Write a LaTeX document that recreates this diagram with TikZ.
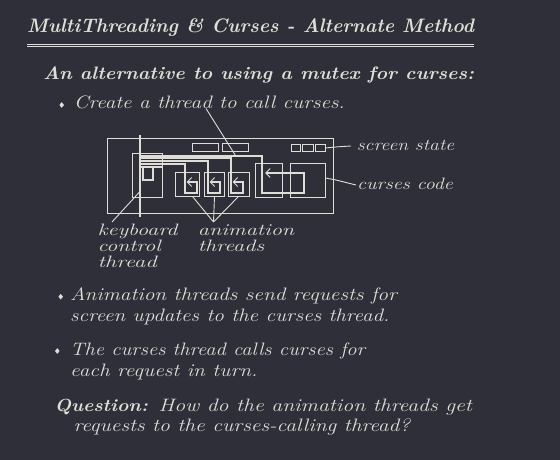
\documentclass[tikz,border=0pt]{standalone}
\usepackage{graphicx}
\usetikzlibrary{arrows.meta}
\definecolor{bg}{RGB}{46,47,56}
\definecolor{fg}{RGB}{222,222,214}
\newcommand\fitto[2]{\resizebox{#1pt}{\height}{#2}}
\begin{document}
\begin{tikzpicture}[x=1pt,y=-1pt,
  txt/.style={anchor=base west, inner sep=0pt, text=fg, font=\fontsize{18}{21}\selectfont\itshape},
  lbl/.style={txt, font=\fontsize{16.5}{19}\selectfont\itshape},
  boldtxt/.style={txt, font=\fontsize{18}{21}\selectfont\bfseries\itshape},
  box/.style={draw=fg, line width=1pt, inner sep=0pt, outer sep=0pt},
  thin/.style={draw=fg, line width=0.9pt},
  thick/.style={draw=fg, line width=2pt},
  tip/.style={-{Straight Barb[length=4.5pt,width=9pt,line width=1pt]}},
  bullet/.style={fill=fg}]
\fill[bg] (0,0) rectangle (560,460);
\useasboundingbox (0,0) rectangle (560,460);

% ---- title ----
\node[txt, font=\fontsize{19.5}{22}\selectfont\bfseries\itshape] (title) at (27,33) {\fitto{447}{MultiThreading \& Curses - Alternate Method}};
\coordinate (ulA) at (27,44.2);
\coordinate (ulB) at (474,44.2);
\coordinate (ulC) at (27,46.8);
\coordinate (ulD) at (474,46.8);
\draw[thin] (ulA) -- (ulB);
\draw[thin] (ulC) -- (ulD);

% ---- subtitle ----
\node[boldtxt] (sub) at (43,79.7) {\fitto{431}{An alternative to using a mutex for curses:}};

% ---- bullet 1 ----
\fill[bullet] (59.4,105) -- (61.7,102.2) -- (64,105) -- (61.7,107.8) -- cycle;
\node[txt] (b1) at (73.6,108.8) {\fitto{271}{Create a thread to call curses.}};

% ---- diagram boxes ----
\node[box, minimum width=226pt, minimum height=75pt] (outer) at (220,176) {};
\node[box, minimum width=26pt, minimum height=8pt] (top1) at (205.5,147.5) {};
\node[box, minimum width=26pt, minimum height=8pt] (top2) at (235.5,147.5) {};
\node[box, minimum width=9pt, minimum height=7pt] (ss1) at (295.5,148) {};
\node[box, minimum width=10.5pt, minimum height=7pt] (ss2) at (307.75,148) {};
\node[box, minimum width=10pt, minimum height=7pt] (ss3) at (320,148) {};
\node[box, minimum width=29.5pt, minimum height=44pt] (kbbox) at (147.25,175.5) {};
\node[box, minimum width=24pt, minimum height=24pt] (an1) at (187.5,184.5) {};
\node[box, minimum width=20pt, minimum height=24pt] (an2) at (214.5,184.5) {};
\node[box, minimum width=21pt, minimum height=24pt] (an3) at (239,184.5) {};
\node[box, minimum width=27pt, minimum height=34pt] (cA) at (269,180.5) {};
\node[box, minimum width=35pt, minimum height=34pt] (cB) at (308,180.5) {};

% ---- keyboard thread (thick) ----
\coordinate (vtop) at (140,135);
\coordinate (vbot) at (140,217);
\draw[thick] (vtop) -- (vbot);
\draw[thick] (140,167) -- (kbbox.east |- 0,167);
\draw[thick] (142.5,167) rectangle (152.5,180);

% requests to the curses thread
\draw[thick, tip] (140,155.5) -- (262,155.5) -- (262,193) -- (304,193) -- (304,173) -- (265,173);
% requests to the animation threads
\draw[thick, tip] (140,158.2) -- (231,158.2) -- (231,192.5) -- (243.3,192.5) -- (243.3,182) -- (232.5,182);
\draw[thick, tip] (140,160.9) -- (208,160.9) -- (208,192.5) -- (219.7,192.5) -- (219.7,182) -- (209.5,182);
\draw[thick, tip] (140,163.6) -- (185,163.6) -- (185,192.5) -- (196.6,192.5) -- (196.6,182) -- (186.5,182);

% ---- leaders ----
\coordinate (thrA) at (206,108.5);
\coordinate (thrB) at (235.5,155.5);
\draw[thin] (thrA) -- (thrB);

\coordinate (ssA) at (351,146);
\draw[thin] (ss3.east) -- (338,146.8) -- (ssA);
\node[lbl] (sslbl) at (356.7,150.5) {\fitto{97.3}{screen state}};

\coordinate (ccA) at (356,185);
\draw[thin] (cB.east |- 0,178) -- (336,180) -- (ccA);
\node[lbl] (cclbl) at (357,189.8) {\fitto{95.7}{curses code}};

\coordinate (kbA) at (112,222);
\coordinate (kbB) at (139.5,192);
\draw[thin] (kbA) -- (kbB);
\node[lbl] (kb1) at (97.3,235.8) {\fitto{80}{keyboard}};
\node[lbl] (kb2) at (97.3,251.7) {\fitto{63.4}{control}};
\node[lbl] (kb3) at (97.3,267.8) {\fitto{59.4}{thread}};

\coordinate (anA) at (213.5,222);
\draw[thin] (anA) -- (192.5,196.5);
\draw[thin] (anA) -- (214.5,196.5);
\draw[thin] (anA) -- (238.5,196.5);
\node[lbl] (an1lbl) at (197.7,235.8) {\fitto{96.3}{animation}};
\node[lbl] (an2lbl) at (197.7,251.7) {\fitto{66.3}{threads}};

% ---- bullet 2 ----
\fill[bullet] (58.4,296.7) -- (60.7,293.9) -- (63,296.7) -- (60.7,299.5) -- cycle;
\node[txt] (b2a) at (70,300.7) {\fitto{326.7}{Animation threads send requests for}};
\node[txt] (b2b) at (70,321.7) {\fitto{319.3}{screen updates to the curses thread.}};

% ---- bullet 3 ----
\fill[bullet] (55,351) -- (57.3,348.2) -- (59.6,351) -- (57.3,353.8) -- cycle;
\node[txt] (b3a) at (70,355) {\fitto{295}{The curses thread calls curses for}};
\node[txt] (b3b) at (70,376) {\fitto{187.3}{each request in turn.}};

% ---- question ----
\node[boldtxt, font=\fontsize{17.5}{20}\selectfont\bfseries\itshape] (q) at (54.3,411.7) {\fitto{93.4}{Question:}};
\node[txt] (qa) at (158.3,411.7) {\fitto{313.4}{How do the animation threads get}};
\node[txt] (qb) at (73.3,431.7) {\fitto{336.7}{requests to the curses-calling thread?}};
\end{tikzpicture}
\end{document}
